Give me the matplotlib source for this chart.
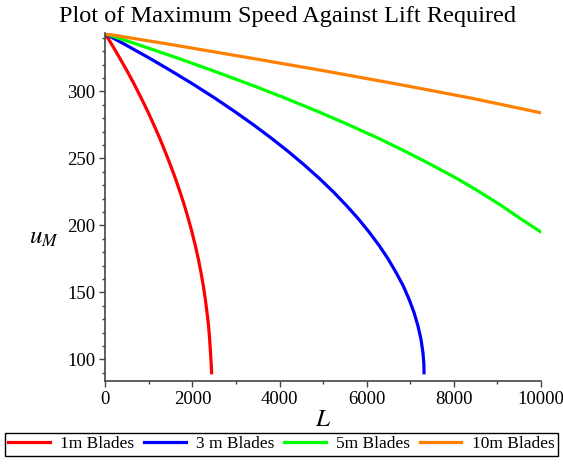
import matplotlib
matplotlib.use("Agg")
import matplotlib.pyplot as plt
from matplotlib.ticker import MultipleLocator

plt.rcParams['font.family'] = ['Liberation Serif', 'DejaVu Serif']
plt.rcParams['mathtext.fontset'] = 'stix'

# maximum speed u_M (m/s) against lift L for each blade length
u_1m = [343, 335, 325, 315, 305, 295, 285, 275, 265, 255, 245, 235, 225, 215,
        205, 195, 185, 175, 165, 155, 145, 135, 125, 115, 105, 97, 90]
L_1m = [0, 150, 330, 505, 670, 825, 975, 1115, 1250, 1375, 1495, 1610, 1715, 1815,
        1905, 1990, 2065, 2135, 2195, 2250, 2295, 2335, 2370, 2395, 2415, 2430, 2440]

u_3m = [343, 335, 325, 315, 305, 295, 285, 275, 265, 255, 245, 235, 225, 215,
        205, 195, 185, 175, 165, 155, 145, 135, 125, 115, 105, 97, 90]
L_3m = [0, 455, 1005, 1530, 2035, 2515, 2970, 3405, 3815, 4205, 4570, 4915, 5235, 5530,
        5805, 6055, 6285, 6490, 6670, 6835, 6970, 7085, 7175, 7245, 7290, 7310, 7315]

u_5m = [343, 335, 325, 315, 305, 295, 285, 275, 265, 255, 245, 235, 225, 215, 205, 195]
L_5m = [0, 750, 1650, 2510, 3340, 4130, 4880, 5590, 6270, 6900, 7500, 8070, 8590, 9080,
        9530, 10000]

u_10m = [343, 335, 325, 315, 305, 295, 284]
L_10m = [0, 1510, 3320, 5090, 6780, 8400, 10000]

fig = plt.figure(figsize=(5.63, 4.67), dpi=100)
ax = fig.add_axes([0.187, 0.184, 0.774, 0.745])

lw = 2.3
ax.plot(L_1m, u_1m, color='#ff0000', lw=lw, label='1m Blades')
ax.plot(L_3m, u_3m, color='#0000ff', lw=lw, label='3 m Blades')
ax.plot(L_5m, u_5m, color='#00ff00', lw=lw, label='5m Blades')
ax.plot(L_10m, u_10m, color='#ff8000', lw=lw, label='10m Blades')

ax.set_xlim(0, 10000)
ax.set_ylim(83.8, 343.5)

# only the left and bottom axes, Maple style
for side in ['top', 'right']:
    ax.spines[side].set_visible(False)
for side in ['left', 'bottom']:
    ax.spines[side].set_color('#444444')
    ax.spines[side].set_linewidth(1.2)

ax.xaxis.set_major_locator(MultipleLocator(2000))
ax.xaxis.set_minor_locator(MultipleLocator(1000))
ax.yaxis.set_major_locator(MultipleLocator(50))
ax.yaxis.set_minor_locator(MultipleLocator(10))
ax.tick_params(which='major', length=4, width=1, color='#444444', labelsize=13.5,
               direction='out', pad=3)
ax.tick_params(which='minor', length=2.5, width=1, color='#444444', direction='out')

fig.text(0.51, 0.964, 'Plot of Maximum Speed Against Lift Required', fontsize=17.5,
         ha='center', va='center')
ax.set_xlabel('$L$', fontsize=18, labelpad=1)
ax.set_ylabel('$u_M$', fontsize=18, rotation=0)
ax.yaxis.set_label_coords(-0.14, 0.38)

leg = fig.legend(loc='center', bbox_to_anchor=(0.5, 0.049), ncol=4, fontsize=12.5,
                 frameon=True, fancybox=False, edgecolor='black', framealpha=1,
                 handlelength=2.4, columnspacing=0.55, handletextpad=0.6,
                 borderpad=0.2, borderaxespad=0)
leg.get_frame().set_linewidth(1.0)

fig.savefig('out.png', dpi=100)
